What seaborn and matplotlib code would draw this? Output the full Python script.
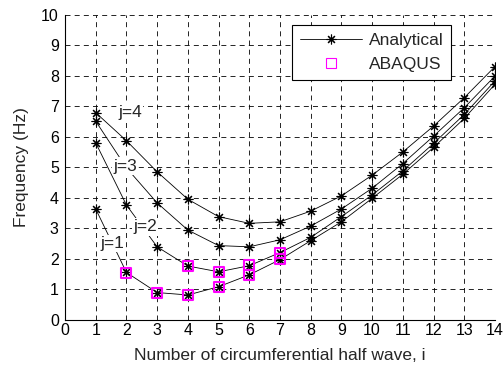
import numpy as np
import pandas as pd
import matplotlib
matplotlib.use("Agg")
import matplotlib.pyplot as plt
import seaborn as sns

# Circumferential half-wave number
i_vals = list(range(1, 15))

# Analytical natural frequencies (Hz) for axial mode numbers j = 1..4
freq_j1 = [3.63, 1.55, 0.89, 0.81, 1.08, 1.47, 1.97, 2.59, 3.21, 3.98, 4.77, 5.65, 6.60, 7.72]
freq_j2 = [5.80, 3.76, 2.39, 1.76, 1.57, 1.77, 2.20, 2.70, 3.38, 4.09, 4.88, 5.78, 6.73, 7.83]
freq_j3 = [6.51, 4.98, 3.83, 2.94, 2.43, 2.39, 2.62, 3.07, 3.63, 4.31, 5.12, 6.02, 6.95, 7.99]
freq_j4 = [6.79, 5.87, 4.85, 3.95, 3.38, 3.16, 3.21, 3.56, 4.06, 4.74, 5.50, 6.35, 7.28, 8.30]

# ABAQUS finite element results
abaqus_i = [2, 3, 4, 4, 5, 5, 6, 6, 7, 7]
abaqus_f = [1.54, 0.89, 0.81, 1.76, 1.08, 1.57, 1.47, 1.79, 1.98, 2.20]

# Curve labels and their positions (i, frequency)
curve_labels = ["j=1", "j=2", "j=3", "j=4"]
label_i = [1.55, 2.6, 1.95, 2.12]
label_f = [2.5, 3.05, 5.04, 6.8]

x_ticks = list(range(0, 15))
y_ticks = list(range(0, 11))

sns.set_style("white")
plt.rcParams["font.family"] = ["Liberation Sans", "DejaVu Sans"]
plt.rcParams["font.size"] = 11

# asterisk marker: eight spokes (plus and cross)
ASTERISK = (8, 2, 0)

analytical = pd.DataFrame({
    "i": i_vals * 4,
    "freq": freq_j1 + freq_j2 + freq_j3 + freq_j4,
    "j": sum([[k] * len(i_vals) for k in range(1, 5)], []),
})
fe = pd.DataFrame({"i": abaqus_i, "freq": abaqus_f})

fig = plt.figure(figsize=(5.04, 3.70), dpi=100)
ax = fig.add_axes([0.129, 0.136, 0.853, 0.824])

sns.lineplot(data=analytical, x="i", y="freq", units="j", estimator=None,
             color="black", linewidth=0.6, marker=ASTERISK, markersize=7,
             markeredgewidth=0.8, markeredgecolor="black", ax=ax, zorder=3)
sns.scatterplot(data=fe, x="i", y="freq", marker="s", s=52,
                facecolors="none", edgecolor="#ff00ff", linewidth=1.5,
                ax=ax, zorder=4)

for lab, xi, yf in zip(curve_labels, label_i, label_f):
    ax.text(xi, yf, lab, ha="center", va="center", fontsize=12.5, zorder=5,
            bbox=dict(facecolor="white", edgecolor="none", pad=1.0))

ax.set_xlim(0, 14)
ax.set_ylim(0, 10)
ax.set_xticks(x_ticks)
ax.set_yticks(y_ticks)
ax.set_xticklabels([str(v) for v in x_ticks])
ax.set_yticklabels([str(v) for v in y_ticks])
ax.tick_params(axis="both", direction="in", length=3, width=0.6,
               labelsize=11.5, colors="black")
ax.tick_params(axis="x", pad=2.5)
ax.tick_params(axis="y", pad=4.5)
ax.grid(True, color="black", linestyle=(0, (6, 5)), linewidth=0.6)
ax.set_axisbelow(True)

for side in ["top", "right"]:
    ax.spines[side].set_visible(False)
for side in ["left", "bottom"]:
    ax.spines[side].set_color("black")
    ax.spines[side].set_linewidth(0.8)

ax.set_xlabel("Number of circumferential half wave, i", fontsize=12.5, labelpad=7)
ax.set_ylabel("Frequency (Hz)", fontsize=12.5, labelpad=9)

handles = [
    plt.Line2D([], [], color="black", linewidth=0.6, marker=ASTERISK, markersize=7,
               markeredgewidth=0.8),
    plt.Line2D([], [], linestyle="none", marker="s", markersize=7.5,
               markerfacecolor="none", markeredgecolor="#ff00ff", markeredgewidth=0.8),
]
leg = ax.legend(handles, ["Analytical", "ABAQUS"], loc="upper right",
                bbox_to_anchor=(0.898, 0.966), borderaxespad=0, fontsize=12.5,
                frameon=True, fancybox=False, edgecolor="black", framealpha=1,
                handlelength=3.6, handletextpad=0.35, borderpad=0.45,
                labelspacing=0.5)
leg.get_frame().set_linewidth(0.8)
leg.set_zorder(6)

fig.savefig("out.png", dpi=100)
